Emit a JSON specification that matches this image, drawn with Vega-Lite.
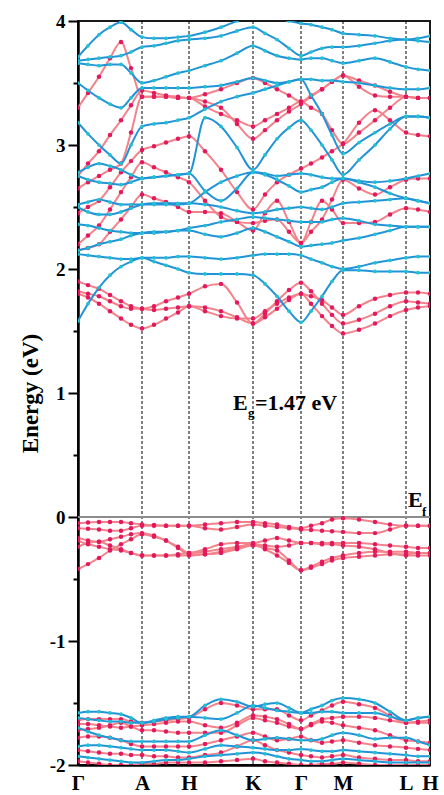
{
"$schema":"https://vega.github.io/schema/vega-lite/v6.json",
"width":352,"height":744,
"autosize":{"type":"none"},
"padding":{"left":78,"top":21,"right":14,"bottom":30},
"background":"white",
"config":{"view":{"stroke":"#1a1a1a","strokeWidth":2},"font":"Liberation Serif"},
"datasets":{
"kpts":[{"k":64},{"k":111},{"k":175},{"k":223},{"k":265},{"k":328}],
"up":[
{"band":"v1","k":0,"E":-0.05},{"band":"v1","k":10,"E":-0.045},{"band":"v1","k":21,"E":-0.04},{"band":"v1","k":32,"E":-0.04},{"band":"v1","k":43,"E":-0.04},{"band":"v1","k":53,"E":-0.05},{"band":"v1","k":64,"E":-0.06},{"band":"v1","k":76,"E":-0.065},{"band":"v1","k":88,"E":-0.07},{"band":"v1","k":100,"E":-0.07},{"band":"v1","k":111,"E":-0.07},{"band":"v1","k":127,"E":-0.06},{"band":"v1","k":143,"E":-0.05},{"band":"v1","k":159,"E":-0.04},{"band":"v1","k":175,"E":-0.04},{"band":"v1","k":187,"E":-0.05},{"band":"v1","k":199,"E":-0.06},{"band":"v1","k":211,"E":-0.08},{"band":"v1","k":223,"E":-0.09},{"band":"v1","k":233,"E":-0.07},{"band":"v1","k":244,"E":-0.05},{"band":"v1","k":254,"E":-0.02},{"band":"v1","k":265,"E":-0.01},{"band":"v1","k":281,"E":-0.02},{"band":"v1","k":297,"E":-0.04},{"band":"v1","k":312,"E":-0.06},{"band":"v1","k":328,"E":-0.07},{"band":"v1","k":340,"E":-0.07},{"band":"v1","k":352,"E":-0.07},
{"band":"v2","k":0,"E":-0.09},{"band":"v2","k":10,"E":-0.095},{"band":"v2","k":21,"E":-0.10},{"band":"v2","k":32,"E":-0.11},{"band":"v2","k":43,"E":-0.11},{"band":"v2","k":53,"E":-0.09},{"band":"v2","k":64,"E":-0.07},{"band":"v2","k":76,"E":-0.07},{"band":"v2","k":88,"E":-0.07},{"band":"v2","k":100,"E":-0.07},{"band":"v2","k":111,"E":-0.07},{"band":"v2","k":127,"E":-0.09},{"band":"v2","k":143,"E":-0.10},{"band":"v2","k":159,"E":-0.08},{"band":"v2","k":175,"E":-0.06},{"band":"v2","k":187,"E":-0.07},{"band":"v2","k":199,"E":-0.08},{"band":"v2","k":211,"E":-0.09},{"band":"v2","k":223,"E":-0.10},{"band":"v2","k":233,"E":-0.105},{"band":"v2","k":244,"E":-0.11},{"band":"v2","k":254,"E":-0.115},{"band":"v2","k":265,"E":-0.12},{"band":"v2","k":281,"E":-0.13},{"band":"v2","k":297,"E":-0.13},{"band":"v2","k":312,"E":-0.10},{"band":"v2","k":328,"E":-0.07},{"band":"v2","k":340,"E":-0.07},{"band":"v2","k":352,"E":-0.07},
{"band":"v3","k":0,"E":-0.17},{"band":"v3","k":10,"E":-0.19},{"band":"v3","k":21,"E":-0.20},{"band":"v3","k":32,"E":-0.18},{"band":"v3","k":43,"E":-0.16},{"band":"v3","k":53,"E":-0.14},{"band":"v3","k":64,"E":-0.13},{"band":"v3","k":76,"E":-0.15},{"band":"v3","k":88,"E":-0.19},{"band":"v3","k":100,"E":-0.24},{"band":"v3","k":111,"E":-0.29},{"band":"v3","k":127,"E":-0.26},{"band":"v3","k":143,"E":-0.22},{"band":"v3","k":159,"E":-0.21},{"band":"v3","k":175,"E":-0.21},{"band":"v3","k":187,"E":-0.19},{"band":"v3","k":199,"E":-0.17},{"band":"v3","k":211,"E":-0.19},{"band":"v3","k":223,"E":-0.21},{"band":"v3","k":233,"E":-0.21},{"band":"v3","k":244,"E":-0.21},{"band":"v3","k":254,"E":-0.21},{"band":"v3","k":265,"E":-0.21},{"band":"v3","k":281,"E":-0.21},{"band":"v3","k":297,"E":-0.22},{"band":"v3","k":312,"E":-0.23},{"band":"v3","k":328,"E":-0.24},{"band":"v3","k":340,"E":-0.25},{"band":"v3","k":352,"E":-0.25},
{"band":"v4","k":0,"E":-0.19},{"band":"v4","k":10,"E":-0.22},{"band":"v4","k":21,"E":-0.24},{"band":"v4","k":32,"E":-0.26},{"band":"v4","k":43,"E":-0.27},{"band":"v4","k":53,"E":-0.29},{"band":"v4","k":64,"E":-0.31},{"band":"v4","k":76,"E":-0.31},{"band":"v4","k":88,"E":-0.31},{"band":"v4","k":100,"E":-0.30},{"band":"v4","k":111,"E":-0.29},{"band":"v4","k":127,"E":-0.28},{"band":"v4","k":143,"E":-0.26},{"band":"v4","k":159,"E":-0.24},{"band":"v4","k":175,"E":-0.22},{"band":"v4","k":187,"E":-0.23},{"band":"v4","k":199,"E":-0.24},{"band":"v4","k":211,"E":-0.23},{"band":"v4","k":223,"E":-0.21},{"band":"v4","k":233,"E":-0.21},{"band":"v4","k":244,"E":-0.22},{"band":"v4","k":254,"E":-0.22},{"band":"v4","k":265,"E":-0.23},{"band":"v4","k":281,"E":-0.24},{"band":"v4","k":297,"E":-0.26},{"band":"v4","k":312,"E":-0.29},{"band":"v4","k":328,"E":-0.31},{"band":"v4","k":340,"E":-0.31},{"band":"v4","k":352,"E":-0.31},
{"band":"v5","k":0,"E":-0.24},{"band":"v5","k":10,"E":-0.21},{"band":"v5","k":21,"E":-0.20},{"band":"v5","k":32,"E":-0.23},{"band":"v5","k":43,"E":-0.26},{"band":"v5","k":53,"E":-0.29},{"band":"v5","k":64,"E":-0.31},{"band":"v5","k":76,"E":-0.31},{"band":"v5","k":88,"E":-0.31},{"band":"v5","k":100,"E":-0.31},{"band":"v5","k":111,"E":-0.31},{"band":"v5","k":127,"E":-0.30},{"band":"v5","k":143,"E":-0.28},{"band":"v5","k":159,"E":-0.25},{"band":"v5","k":175,"E":-0.22},{"band":"v5","k":187,"E":-0.26},{"band":"v5","k":199,"E":-0.31},{"band":"v5","k":211,"E":-0.37},{"band":"v5","k":223,"E":-0.43},{"band":"v5","k":233,"E":-0.40},{"band":"v5","k":244,"E":-0.36},{"band":"v5","k":254,"E":-0.33},{"band":"v5","k":265,"E":-0.31},{"band":"v5","k":281,"E":-0.29},{"band":"v5","k":297,"E":-0.28},{"band":"v5","k":312,"E":-0.28},{"band":"v5","k":328,"E":-0.28},{"band":"v5","k":340,"E":-0.29},{"band":"v5","k":352,"E":-0.29},
{"band":"v6","k":0,"E":-0.42},{"band":"v6","k":10,"E":-0.38},{"band":"v6","k":21,"E":-0.33},{"band":"v6","k":32,"E":-0.27},{"band":"v6","k":43,"E":-0.22},{"band":"v6","k":53,"E":-0.18},{"band":"v6","k":64,"E":-0.14},{"band":"v6","k":76,"E":-0.16},{"band":"v6","k":88,"E":-0.19},{"band":"v6","k":100,"E":-0.25},{"band":"v6","k":111,"E":-0.30},{"band":"v6","k":127,"E":-0.30},{"band":"v6","k":143,"E":-0.29},{"band":"v6","k":159,"E":-0.26},{"band":"v6","k":175,"E":-0.23},{"band":"v6","k":187,"E":-0.25},{"band":"v6","k":199,"E":-0.27},{"band":"v6","k":211,"E":-0.35},{"band":"v6","k":223,"E":-0.43},{"band":"v6","k":233,"E":-0.41},{"band":"v6","k":244,"E":-0.38},{"band":"v6","k":254,"E":-0.35},{"band":"v6","k":265,"E":-0.33},{"band":"v6","k":281,"E":-0.32},{"band":"v6","k":297,"E":-0.31},{"band":"v6","k":312,"E":-0.30},{"band":"v6","k":328,"E":-0.30},{"band":"v6","k":340,"E":-0.29},{"band":"v6","k":352,"E":-0.29},
{"band":"lr1","k":0,"E":-1.64},{"band":"lr1","k":10,"E":-1.63},{"band":"lr1","k":21,"E":-1.63},{"band":"lr1","k":32,"E":-1.63},{"band":"lr1","k":43,"E":-1.63},{"band":"lr1","k":53,"E":-1.65},{"band":"lr1","k":64,"E":-1.66},{"band":"lr1","k":76,"E":-1.65},{"band":"lr1","k":88,"E":-1.64},{"band":"lr1","k":100,"E":-1.63},{"band":"lr1","k":111,"E":-1.62},{"band":"lr1","k":127,"E":-1.55},{"band":"lr1","k":143,"E":-1.50},{"band":"lr1","k":159,"E":-1.52},{"band":"lr1","k":175,"E":-1.55},{"band":"lr1","k":187,"E":-1.55},{"band":"lr1","k":199,"E":-1.55},{"band":"lr1","k":211,"E":-1.60},{"band":"lr1","k":223,"E":-1.64},{"band":"lr1","k":233,"E":-1.60},{"band":"lr1","k":244,"E":-1.56},{"band":"lr1","k":254,"E":-1.52},{"band":"lr1","k":265,"E":-1.49},{"band":"lr1","k":281,"E":-1.51},{"band":"lr1","k":297,"E":-1.54},{"band":"lr1","k":312,"E":-1.60},{"band":"lr1","k":328,"E":-1.66},{"band":"lr1","k":340,"E":-1.65},{"band":"lr1","k":352,"E":-1.64},
{"band":"lr2","k":0,"E":-1.67},{"band":"lr2","k":10,"E":-1.67},{"band":"lr2","k":21,"E":-1.68},{"band":"lr2","k":32,"E":-1.69},{"band":"lr2","k":43,"E":-1.70},{"band":"lr2","k":53,"E":-1.69},{"band":"lr2","k":64,"E":-1.68},{"band":"lr2","k":76,"E":-1.67},{"band":"lr2","k":88,"E":-1.66},{"band":"lr2","k":100,"E":-1.65},{"band":"lr2","k":111,"E":-1.65},{"band":"lr2","k":127,"E":-1.68},{"band":"lr2","k":143,"E":-1.70},{"band":"lr2","k":159,"E":-1.66},{"band":"lr2","k":175,"E":-1.60},{"band":"lr2","k":187,"E":-1.61},{"band":"lr2","k":199,"E":-1.63},{"band":"lr2","k":211,"E":-1.67},{"band":"lr2","k":223,"E":-1.71},{"band":"lr2","k":233,"E":-1.67},{"band":"lr2","k":244,"E":-1.63},{"band":"lr2","k":254,"E":-1.62},{"band":"lr2","k":265,"E":-1.61},{"band":"lr2","k":281,"E":-1.61},{"band":"lr2","k":297,"E":-1.62},{"band":"lr2","k":312,"E":-1.64},{"band":"lr2","k":328,"E":-1.66},{"band":"lr2","k":340,"E":-1.66},{"band":"lr2","k":352,"E":-1.66},
{"band":"lr3","k":0,"E":-1.72},{"band":"lr3","k":10,"E":-1.71},{"band":"lr3","k":21,"E":-1.70},{"band":"lr3","k":32,"E":-1.68},{"band":"lr3","k":43,"E":-1.66},{"band":"lr3","k":53,"E":-1.69},{"band":"lr3","k":64,"E":-1.72},{"band":"lr3","k":76,"E":-1.72},{"band":"lr3","k":88,"E":-1.73},{"band":"lr3","k":100,"E":-1.74},{"band":"lr3","k":111,"E":-1.74},{"band":"lr3","k":127,"E":-1.74},{"band":"lr3","k":143,"E":-1.74},{"band":"lr3","k":159,"E":-1.68},{"band":"lr3","k":175,"E":-1.62},{"band":"lr3","k":187,"E":-1.64},{"band":"lr3","k":199,"E":-1.66},{"band":"lr3","k":211,"E":-1.69},{"band":"lr3","k":223,"E":-1.71},{"band":"lr3","k":233,"E":-1.68},{"band":"lr3","k":244,"E":-1.65},{"band":"lr3","k":254,"E":-1.66},{"band":"lr3","k":265,"E":-1.68},{"band":"lr3","k":281,"E":-1.70},{"band":"lr3","k":297,"E":-1.72},{"band":"lr3","k":312,"E":-1.76},{"band":"lr3","k":328,"E":-1.80},{"band":"lr3","k":340,"E":-1.81},{"band":"lr3","k":352,"E":-1.82},
{"band":"lr4","k":0,"E":-1.78},{"band":"lr4","k":10,"E":-1.77},{"band":"lr4","k":21,"E":-1.77},{"band":"lr4","k":32,"E":-1.78},{"band":"lr4","k":43,"E":-1.80},{"band":"lr4","k":53,"E":-1.83},{"band":"lr4","k":64,"E":-1.85},{"band":"lr4","k":76,"E":-1.85},{"band":"lr4","k":88,"E":-1.85},{"band":"lr4","k":100,"E":-1.85},{"band":"lr4","k":111,"E":-1.85},{"band":"lr4","k":127,"E":-1.83},{"band":"lr4","k":143,"E":-1.80},{"band":"lr4","k":159,"E":-1.77},{"band":"lr4","k":175,"E":-1.74},{"band":"lr4","k":187,"E":-1.77},{"band":"lr4","k":199,"E":-1.80},{"band":"lr4","k":211,"E":-1.79},{"band":"lr4","k":223,"E":-1.77},{"band":"lr4","k":233,"E":-1.80},{"band":"lr4","k":244,"E":-1.82},{"band":"lr4","k":254,"E":-1.81},{"band":"lr4","k":265,"E":-1.80},{"band":"lr4","k":281,"E":-1.82},{"band":"lr4","k":297,"E":-1.84},{"band":"lr4","k":312,"E":-1.85},{"band":"lr4","k":328,"E":-1.86},{"band":"lr4","k":340,"E":-1.87},{"band":"lr4","k":352,"E":-1.88},
{"band":"lr5","k":0,"E":-1.88},{"band":"lr5","k":10,"E":-1.89},{"band":"lr5","k":21,"E":-1.90},{"band":"lr5","k":32,"E":-1.91},{"band":"lr5","k":43,"E":-1.91},{"band":"lr5","k":53,"E":-1.92},{"band":"lr5","k":64,"E":-1.92},{"band":"lr5","k":76,"E":-1.93},{"band":"lr5","k":88,"E":-1.93},{"band":"lr5","k":100,"E":-1.94},{"band":"lr5","k":111,"E":-1.94},{"band":"lr5","k":127,"E":-1.92},{"band":"lr5","k":143,"E":-1.90},{"band":"lr5","k":159,"E":-1.85},{"band":"lr5","k":175,"E":-1.80},{"band":"lr5","k":187,"E":-1.84},{"band":"lr5","k":199,"E":-1.88},{"band":"lr5","k":211,"E":-1.90},{"band":"lr5","k":223,"E":-1.92},{"band":"lr5","k":233,"E":-1.93},{"band":"lr5","k":244,"E":-1.94},{"band":"lr5","k":254,"E":-1.93},{"band":"lr5","k":265,"E":-1.92},{"band":"lr5","k":281,"E":-1.94},{"band":"lr5","k":297,"E":-1.95},{"band":"lr5","k":312,"E":-1.96},{"band":"lr5","k":328,"E":-1.96},{"band":"lr5","k":340,"E":-1.97},{"band":"lr5","k":352,"E":-1.97},
{"band":"lr6","k":0,"E":-1.97},{"band":"lr6","k":10,"E":-1.98},{"band":"lr6","k":21,"E":-1.99},{"band":"lr6","k":32,"E":-2.0},{"band":"lr6","k":43,"E":-2.0},{"band":"lr6","k":53,"E":-2.0},{"band":"lr6","k":64,"E":-1.99},{"band":"lr6","k":76,"E":-1.99},{"band":"lr6","k":88,"E":-1.98},{"band":"lr6","k":100,"E":-1.98},{"band":"lr6","k":111,"E":-1.98},{"band":"lr6","k":127,"E":-1.98},{"band":"lr6","k":143,"E":-1.97},{"band":"lr6","k":159,"E":-1.96},{"band":"lr6","k":175,"E":-1.95},{"band":"lr6","k":187,"E":-1.97},{"band":"lr6","k":199,"E":-1.98},{"band":"lr6","k":211,"E":-1.99},{"band":"lr6","k":223,"E":-2.0},{"band":"lr6","k":233,"E":-2.0},{"band":"lr6","k":244,"E":-1.99},{"band":"lr6","k":254,"E":-1.99},{"band":"lr6","k":265,"E":-1.98},{"band":"lr6","k":281,"E":-1.99},{"band":"lr6","k":297,"E":-2.0},{"band":"lr6","k":312,"E":-2.0},{"band":"lr6","k":328,"E":-2.0},{"band":"lr6","k":340,"E":-2.0},{"band":"lr6","k":352,"E":-2.0},
{"band":"rc1","k":0,"E":1.80},{"band":"rc1","k":10,"E":1.77},{"band":"rc1","k":21,"E":1.72},{"band":"rc1","k":32,"E":1.66},{"band":"rc1","k":43,"E":1.60},{"band":"rc1","k":53,"E":1.55},{"band":"rc1","k":64,"E":1.52},{"band":"rc1","k":76,"E":1.55},{"band":"rc1","k":88,"E":1.60},{"band":"rc1","k":100,"E":1.65},{"band":"rc1","k":111,"E":1.70},{"band":"rc1","k":127,"E":1.69},{"band":"rc1","k":143,"E":1.66},{"band":"rc1","k":159,"E":1.61},{"band":"rc1","k":175,"E":1.56},{"band":"rc1","k":187,"E":1.61},{"band":"rc1","k":199,"E":1.68},{"band":"rc1","k":211,"E":1.75},{"band":"rc1","k":223,"E":1.80},{"band":"rc1","k":233,"E":1.72},{"band":"rc1","k":244,"E":1.62},{"band":"rc1","k":254,"E":1.54},{"band":"rc1","k":265,"E":1.48},{"band":"rc1","k":281,"E":1.51},{"band":"rc1","k":297,"E":1.56},{"band":"rc1","k":312,"E":1.62},{"band":"rc1","k":328,"E":1.67},{"band":"rc1","k":340,"E":1.69},{"band":"rc1","k":352,"E":1.70},
{"band":"rc2","k":0,"E":1.82},{"band":"rc2","k":10,"E":1.80},{"band":"rc2","k":21,"E":1.78},{"band":"rc2","k":32,"E":1.74},{"band":"rc2","k":43,"E":1.70},{"band":"rc2","k":53,"E":1.68},{"band":"rc2","k":64,"E":1.68},{"band":"rc2","k":76,"E":1.70},{"band":"rc2","k":88,"E":1.74},{"band":"rc2","k":100,"E":1.77},{"band":"rc2","k":111,"E":1.80},{"band":"rc2","k":127,"E":1.86},{"band":"rc2","k":143,"E":1.88},{"band":"rc2","k":159,"E":1.73},{"band":"rc2","k":175,"E":1.56},{"band":"rc2","k":187,"E":1.64},{"band":"rc2","k":199,"E":1.74},{"band":"rc2","k":211,"E":1.83},{"band":"rc2","k":223,"E":1.89},{"band":"rc2","k":233,"E":1.82},{"band":"rc2","k":244,"E":1.72},{"band":"rc2","k":254,"E":1.63},{"band":"rc2","k":265,"E":1.56},{"band":"rc2","k":281,"E":1.59},{"band":"rc2","k":297,"E":1.64},{"band":"rc2","k":312,"E":1.70},{"band":"rc2","k":328,"E":1.74},{"band":"rc2","k":340,"E":1.73},{"band":"rc2","k":352,"E":1.72},
{"band":"rc3","k":0,"E":1.90},{"band":"rc3","k":10,"E":1.87},{"band":"rc3","k":21,"E":1.84},{"band":"rc3","k":32,"E":1.79},{"band":"rc3","k":43,"E":1.74},{"band":"rc3","k":53,"E":1.70},{"band":"rc3","k":64,"E":1.68},{"band":"rc3","k":76,"E":1.67},{"band":"rc3","k":88,"E":1.68},{"band":"rc3","k":100,"E":1.69},{"band":"rc3","k":111,"E":1.70},{"band":"rc3","k":127,"E":1.66},{"band":"rc3","k":143,"E":1.62},{"band":"rc3","k":159,"E":1.60},{"band":"rc3","k":175,"E":1.60},{"band":"rc3","k":187,"E":1.66},{"band":"rc3","k":199,"E":1.72},{"band":"rc3","k":211,"E":1.77},{"band":"rc3","k":223,"E":1.80},{"band":"rc3","k":233,"E":1.78},{"band":"rc3","k":244,"E":1.75},{"band":"rc3","k":254,"E":1.69},{"band":"rc3","k":265,"E":1.63},{"band":"rc3","k":281,"E":1.70},{"band":"rc3","k":297,"E":1.76},{"band":"rc3","k":312,"E":1.79},{"band":"rc3","k":328,"E":1.81},{"band":"rc3","k":340,"E":1.81},{"band":"rc3","k":352,"E":1.80},
{"band":"rc4","k":0,"E":2.15},{"band":"rc4","k":10,"E":2.17},{"band":"rc4","k":21,"E":2.20},{"band":"rc4","k":32,"E":2.30},{"band":"rc4","k":43,"E":2.40},{"band":"rc4","k":53,"E":2.50},{"band":"rc4","k":64,"E":2.60},{"band":"rc4","k":76,"E":2.57},{"band":"rc4","k":88,"E":2.54},{"band":"rc4","k":100,"E":2.50},{"band":"rc4","k":111,"E":2.46},{"band":"rc4","k":127,"E":2.46},{"band":"rc4","k":143,"E":2.45},{"band":"rc4","k":159,"E":2.38},{"band":"rc4","k":175,"E":2.31},{"band":"rc4","k":187,"E":2.45},{"band":"rc4","k":199,"E":2.55},{"band":"rc4","k":211,"E":2.38},{"band":"rc4","k":223,"E":2.21},{"band":"rc4","k":233,"E":2.38},{"band":"rc4","k":244,"E":2.55},{"band":"rc4","k":254,"E":2.48},{"band":"rc4","k":265,"E":2.37},{"band":"rc4","k":281,"E":2.37},{"band":"rc4","k":297,"E":2.38},{"band":"rc4","k":312,"E":2.44},{"band":"rc4","k":328,"E":2.49},{"band":"rc4","k":340,"E":2.48},{"band":"rc4","k":352,"E":2.46},
{"band":"rc5","k":0,"E":2.20},{"band":"rc5","k":10,"E":2.27},{"band":"rc5","k":21,"E":2.35},{"band":"rc5","k":32,"E":2.48},{"band":"rc5","k":43,"E":2.62},{"band":"rc5","k":53,"E":2.74},{"band":"rc5","k":64,"E":2.86},{"band":"rc5","k":76,"E":2.82},{"band":"rc5","k":88,"E":2.78},{"band":"rc5","k":100,"E":2.74},{"band":"rc5","k":111,"E":2.70},{"band":"rc5","k":127,"E":2.55},{"band":"rc5","k":143,"E":2.42},{"band":"rc5","k":159,"E":2.38},{"band":"rc5","k":175,"E":2.37},{"band":"rc5","k":187,"E":2.39},{"band":"rc5","k":199,"E":2.40},{"band":"rc5","k":211,"E":2.30},{"band":"rc5","k":223,"E":2.21},{"band":"rc5","k":233,"E":2.30},{"band":"rc5","k":244,"E":2.40},{"band":"rc5","k":254,"E":2.56},{"band":"rc5","k":265,"E":2.72},{"band":"rc5","k":281,"E":2.65},{"band":"rc5","k":297,"E":2.60},{"band":"rc5","k":312,"E":2.66},{"band":"rc5","k":328,"E":2.72},{"band":"rc5","k":340,"E":2.73},{"band":"rc5","k":352,"E":2.73},
{"band":"rc6","k":0,"E":2.45},{"band":"rc6","k":10,"E":2.50},{"band":"rc6","k":21,"E":2.55},{"band":"rc6","k":32,"E":2.66},{"band":"rc6","k":43,"E":2.78},{"band":"rc6","k":53,"E":2.87},{"band":"rc6","k":64,"E":2.96},{"band":"rc6","k":76,"E":2.99},{"band":"rc6","k":88,"E":3.02},{"band":"rc6","k":100,"E":3.05},{"band":"rc6","k":111,"E":3.07},{"band":"rc6","k":127,"E":2.95},{"band":"rc6","k":143,"E":2.80},{"band":"rc6","k":159,"E":2.62},{"band":"rc6","k":175,"E":2.48},{"band":"rc6","k":187,"E":2.60},{"band":"rc6","k":199,"E":2.70},{"band":"rc6","k":211,"E":2.76},{"band":"rc6","k":223,"E":2.81},{"band":"rc6","k":233,"E":2.85},{"band":"rc6","k":244,"E":2.90},{"band":"rc6","k":254,"E":2.95},{"band":"rc6","k":265,"E":3.01},{"band":"rc6","k":281,"E":3.18},{"band":"rc6","k":297,"E":3.28},{"band":"rc6","k":312,"E":3.20},{"band":"rc6","k":328,"E":3.10},{"band":"rc6","k":340,"E":3.08},{"band":"rc6","k":352,"E":3.07},
{"band":"rc7","k":0,"E":2.65},{"band":"rc7","k":10,"E":2.70},{"band":"rc7","k":21,"E":2.75},{"band":"rc7","k":32,"E":2.80},{"band":"rc7","k":43,"E":2.85},{"band":"rc7","k":53,"E":3.10},{"band":"rc7","k":64,"E":3.39},{"band":"rc7","k":76,"E":3.39},{"band":"rc7","k":88,"E":3.39},{"band":"rc7","k":100,"E":3.38},{"band":"rc7","k":111,"E":3.38},{"band":"rc7","k":127,"E":3.35},{"band":"rc7","k":143,"E":3.30},{"band":"rc7","k":159,"E":3.17},{"band":"rc7","k":175,"E":3.05},{"band":"rc7","k":187,"E":3.12},{"band":"rc7","k":199,"E":3.20},{"band":"rc7","k":211,"E":3.27},{"band":"rc7","k":223,"E":3.33},{"band":"rc7","k":233,"E":3.39},{"band":"rc7","k":244,"E":3.45},{"band":"rc7","k":254,"E":3.51},{"band":"rc7","k":265,"E":3.56},{"band":"rc7","k":281,"E":3.47},{"band":"rc7","k":297,"E":3.40},{"band":"rc7","k":312,"E":3.39},{"band":"rc7","k":328,"E":3.39},{"band":"rc7","k":340,"E":3.38},{"band":"rc7","k":352,"E":3.38},
{"band":"rc8","k":0,"E":2.75},{"band":"rc8","k":10,"E":2.85},{"band":"rc8","k":21,"E":2.95},{"band":"rc8","k":32,"E":3.08},{"band":"rc8","k":43,"E":3.20},{"band":"rc8","k":53,"E":3.32},{"band":"rc8","k":64,"E":3.44},{"band":"rc8","k":76,"E":3.42},{"band":"rc8","k":88,"E":3.40},{"band":"rc8","k":100,"E":3.39},{"band":"rc8","k":111,"E":3.38},{"band":"rc8","k":127,"E":3.41},{"band":"rc8","k":143,"E":3.45},{"band":"rc8","k":159,"E":3.50},{"band":"rc8","k":175,"E":3.54},{"band":"rc8","k":187,"E":3.50},{"band":"rc8","k":199,"E":3.45},{"band":"rc8","k":211,"E":3.40},{"band":"rc8","k":223,"E":3.35},{"band":"rc8","k":233,"E":3.40},{"band":"rc8","k":244,"E":3.45},{"band":"rc8","k":254,"E":3.51},{"band":"rc8","k":265,"E":3.56},{"band":"rc8","k":281,"E":3.52},{"band":"rc8","k":297,"E":3.48},{"band":"rc8","k":312,"E":3.43},{"band":"rc8","k":328,"E":3.39},{"band":"rc8","k":340,"E":3.38},{"band":"rc8","k":352,"E":3.38},
{"band":"rc9","k":0,"E":3.30},{"band":"rc9","k":10,"E":3.42},{"band":"rc9","k":21,"E":3.55},{"band":"rc9","k":32,"E":3.70},{"band":"rc9","k":43,"E":3.83},{"band":"rc9","k":53,"E":3.62},{"band":"rc9","k":64,"E":3.39},{"band":"rc9","k":76,"E":3.39},{"band":"rc9","k":88,"E":3.39},{"band":"rc9","k":100,"E":3.38},{"band":"rc9","k":111,"E":3.38},{"band":"rc9","k":127,"E":3.31},{"band":"rc9","k":143,"E":3.25},{"band":"rc9","k":159,"E":3.20},{"band":"rc9","k":175,"E":3.15},{"band":"rc9","k":187,"E":3.20},{"band":"rc9","k":199,"E":3.25},{"band":"rc9","k":211,"E":3.30},{"band":"rc9","k":223,"E":3.35},{"band":"rc9","k":233,"E":3.30},{"band":"rc9","k":244,"E":3.25},{"band":"rc9","k":254,"E":3.12},{"band":"rc9","k":265,"E":3.01},{"band":"rc9","k":281,"E":3.10},{"band":"rc9","k":297,"E":3.20},{"band":"rc9","k":312,"E":3.30},{"band":"rc9","k":328,"E":3.39},{"band":"rc9","k":340,"E":3.38},{"band":"rc9","k":352,"E":3.38}
],
"down":[
{"band":"lb1","k":0,"E":-1.58},{"band":"lb1","k":10,"E":-1.57},{"band":"lb1","k":21,"E":-1.57},{"band":"lb1","k":32,"E":-1.58},{"band":"lb1","k":43,"E":-1.59},{"band":"lb1","k":53,"E":-1.62},{"band":"lb1","k":64,"E":-1.66},{"band":"lb1","k":76,"E":-1.64},{"band":"lb1","k":88,"E":-1.62},{"band":"lb1","k":100,"E":-1.61},{"band":"lb1","k":111,"E":-1.61},{"band":"lb1","k":127,"E":-1.52},{"band":"lb1","k":143,"E":-1.47},{"band":"lb1","k":159,"E":-1.49},{"band":"lb1","k":175,"E":-1.53},{"band":"lb1","k":187,"E":-1.51},{"band":"lb1","k":199,"E":-1.50},{"band":"lb1","k":211,"E":-1.54},{"band":"lb1","k":223,"E":-1.58},{"band":"lb1","k":233,"E":-1.55},{"band":"lb1","k":244,"E":-1.52},{"band":"lb1","k":254,"E":-1.48},{"band":"lb1","k":265,"E":-1.46},{"band":"lb1","k":281,"E":-1.47},{"band":"lb1","k":297,"E":-1.50},{"band":"lb1","k":312,"E":-1.57},{"band":"lb1","k":328,"E":-1.64},{"band":"lb1","k":340,"E":-1.62},{"band":"lb1","k":352,"E":-1.61},
{"band":"lb2","k":0,"E":-1.62},{"band":"lb2","k":10,"E":-1.63},{"band":"lb2","k":21,"E":-1.64},{"band":"lb2","k":32,"E":-1.65},{"band":"lb2","k":43,"E":-1.65},{"band":"lb2","k":53,"E":-1.66},{"band":"lb2","k":64,"E":-1.66},{"band":"lb2","k":76,"E":-1.65},{"band":"lb2","k":88,"E":-1.63},{"band":"lb2","k":100,"E":-1.62},{"band":"lb2","k":111,"E":-1.61},{"band":"lb2","k":127,"E":-1.62},{"band":"lb2","k":143,"E":-1.63},{"band":"lb2","k":159,"E":-1.58},{"band":"lb2","k":175,"E":-1.52},{"band":"lb2","k":187,"E":-1.54},{"band":"lb2","k":199,"E":-1.56},{"band":"lb2","k":211,"E":-1.57},{"band":"lb2","k":223,"E":-1.58},{"band":"lb2","k":233,"E":-1.58},{"band":"lb2","k":244,"E":-1.57},{"band":"lb2","k":254,"E":-1.57},{"band":"lb2","k":265,"E":-1.58},{"band":"lb2","k":281,"E":-1.58},{"band":"lb2","k":297,"E":-1.58},{"band":"lb2","k":312,"E":-1.61},{"band":"lb2","k":328,"E":-1.64},{"band":"lb2","k":340,"E":-1.62},{"band":"lb2","k":352,"E":-1.61},
{"band":"lb3","k":0,"E":-1.70},{"band":"lb3","k":10,"E":-1.73},{"band":"lb3","k":21,"E":-1.76},{"band":"lb3","k":32,"E":-1.78},{"band":"lb3","k":43,"E":-1.80},{"band":"lb3","k":53,"E":-1.81},{"band":"lb3","k":64,"E":-1.81},{"band":"lb3","k":76,"E":-1.81},{"band":"lb3","k":88,"E":-1.81},{"band":"lb3","k":100,"E":-1.81},{"band":"lb3","k":111,"E":-1.81},{"band":"lb3","k":127,"E":-1.76},{"band":"lb3","k":143,"E":-1.72},{"band":"lb3","k":159,"E":-1.76},{"band":"lb3","k":175,"E":-1.80},{"band":"lb3","k":187,"E":-1.79},{"band":"lb3","k":199,"E":-1.78},{"band":"lb3","k":211,"E":-1.79},{"band":"lb3","k":223,"E":-1.80},{"band":"lb3","k":233,"E":-1.80},{"band":"lb3","k":244,"E":-1.79},{"band":"lb3","k":254,"E":-1.76},{"band":"lb3","k":265,"E":-1.74},{"band":"lb3","k":281,"E":-1.76},{"band":"lb3","k":297,"E":-1.79},{"band":"lb3","k":312,"E":-1.78},{"band":"lb3","k":328,"E":-1.78},{"band":"lb3","k":340,"E":-1.81},{"band":"lb3","k":352,"E":-1.84},
{"band":"lb4","k":0,"E":-1.85},{"band":"lb4","k":10,"E":-1.84},{"band":"lb4","k":21,"E":-1.84},{"band":"lb4","k":32,"E":-1.85},{"band":"lb4","k":43,"E":-1.86},{"band":"lb4","k":53,"E":-1.87},{"band":"lb4","k":64,"E":-1.88},{"band":"lb4","k":76,"E":-1.88},{"band":"lb4","k":88,"E":-1.88},{"band":"lb4","k":100,"E":-1.89},{"band":"lb4","k":111,"E":-1.90},{"band":"lb4","k":127,"E":-1.87},{"band":"lb4","k":143,"E":-1.84},{"band":"lb4","k":159,"E":-1.85},{"band":"lb4","k":175,"E":-1.86},{"band":"lb4","k":187,"E":-1.87},{"band":"lb4","k":199,"E":-1.88},{"band":"lb4","k":211,"E":-1.88},{"band":"lb4","k":223,"E":-1.87},{"band":"lb4","k":233,"E":-1.88},{"band":"lb4","k":244,"E":-1.89},{"band":"lb4","k":254,"E":-1.89},{"band":"lb4","k":265,"E":-1.88},{"band":"lb4","k":281,"E":-1.89},{"band":"lb4","k":297,"E":-1.90},{"band":"lb4","k":312,"E":-1.91},{"band":"lb4","k":328,"E":-1.92},{"band":"lb4","k":340,"E":-1.93},{"band":"lb4","k":352,"E":-1.93},
{"band":"lb5","k":0,"E":-1.93},{"band":"lb5","k":10,"E":-1.94},{"band":"lb5","k":21,"E":-1.95},{"band":"lb5","k":32,"E":-1.96},{"band":"lb5","k":43,"E":-1.97},{"band":"lb5","k":53,"E":-1.98},{"band":"lb5","k":64,"E":-1.98},{"band":"lb5","k":76,"E":-1.97},{"band":"lb5","k":88,"E":-1.96},{"band":"lb5","k":100,"E":-1.96},{"band":"lb5","k":111,"E":-1.95},{"band":"lb5","k":127,"E":-1.93},{"band":"lb5","k":143,"E":-1.92},{"band":"lb5","k":159,"E":-1.91},{"band":"lb5","k":175,"E":-1.90},{"band":"lb5","k":187,"E":-1.91},{"band":"lb5","k":199,"E":-1.93},{"band":"lb5","k":211,"E":-1.95},{"band":"lb5","k":223,"E":-1.96},{"band":"lb5","k":233,"E":-1.97},{"band":"lb5","k":244,"E":-1.97},{"band":"lb5","k":254,"E":-1.96},{"band":"lb5","k":265,"E":-1.95},{"band":"lb5","k":281,"E":-1.96},{"band":"lb5","k":297,"E":-1.97},{"band":"lb5","k":312,"E":-1.98},{"band":"lb5","k":328,"E":-1.98},{"band":"lb5","k":340,"E":-1.98},{"band":"lb5","k":352,"E":-1.98},
{"band":"bc1","k":0,"E":1.58},{"band":"bc1","k":10,"E":1.72},{"band":"bc1","k":21,"E":1.85},{"band":"bc1","k":32,"E":1.95},{"band":"bc1","k":43,"E":2.02},{"band":"bc1","k":53,"E":2.06},{"band":"bc1","k":64,"E":2.09},{"band":"bc1","k":76,"E":2.06},{"band":"bc1","k":88,"E":2.03},{"band":"bc1","k":100,"E":2.00},{"band":"bc1","k":111,"E":1.97},{"band":"bc1","k":127,"E":1.96},{"band":"bc1","k":143,"E":1.96},{"band":"bc1","k":159,"E":1.96},{"band":"bc1","k":175,"E":1.95},{"band":"bc1","k":187,"E":1.88},{"band":"bc1","k":199,"E":1.78},{"band":"bc1","k":211,"E":1.66},{"band":"bc1","k":223,"E":1.57},{"band":"bc1","k":233,"E":1.66},{"band":"bc1","k":244,"E":1.78},{"band":"bc1","k":254,"E":1.90},{"band":"bc1","k":265,"E":1.99},{"band":"bc1","k":281,"E":1.99},{"band":"bc1","k":297,"E":1.98},{"band":"bc1","k":312,"E":1.98},{"band":"bc1","k":328,"E":1.98},{"band":"bc1","k":340,"E":1.97},{"band":"bc1","k":352,"E":1.97},
{"band":"bc2","k":0,"E":2.12},{"band":"bc2","k":10,"E":2.11},{"band":"bc2","k":21,"E":2.10},{"band":"bc2","k":32,"E":2.09},{"band":"bc2","k":43,"E":2.08},{"band":"bc2","k":53,"E":2.08},{"band":"bc2","k":64,"E":2.09},{"band":"bc2","k":76,"E":2.09},{"band":"bc2","k":88,"E":2.09},{"band":"bc2","k":100,"E":2.10},{"band":"bc2","k":111,"E":2.10},{"band":"bc2","k":127,"E":2.09},{"band":"bc2","k":143,"E":2.08},{"band":"bc2","k":159,"E":2.09},{"band":"bc2","k":175,"E":2.11},{"band":"bc2","k":187,"E":2.12},{"band":"bc2","k":199,"E":2.12},{"band":"bc2","k":211,"E":2.12},{"band":"bc2","k":223,"E":2.11},{"band":"bc2","k":233,"E":2.08},{"band":"bc2","k":244,"E":2.05},{"band":"bc2","k":254,"E":2.02},{"band":"bc2","k":265,"E":2.00},{"band":"bc2","k":281,"E":2.02},{"band":"bc2","k":297,"E":2.05},{"band":"bc2","k":312,"E":2.07},{"band":"bc2","k":328,"E":2.09},{"band":"bc2","k":340,"E":2.10},{"band":"bc2","k":352,"E":2.10},
{"band":"bc3","k":0,"E":2.15},{"band":"bc3","k":10,"E":2.17},{"band":"bc3","k":21,"E":2.20},{"band":"bc3","k":32,"E":2.22},{"band":"bc3","k":43,"E":2.24},{"band":"bc3","k":53,"E":2.27},{"band":"bc3","k":64,"E":2.29},{"band":"bc3","k":76,"E":2.30},{"band":"bc3","k":88,"E":2.30},{"band":"bc3","k":100,"E":2.31},{"band":"bc3","k":111,"E":2.31},{"band":"bc3","k":127,"E":2.28},{"band":"bc3","k":143,"E":2.26},{"band":"bc3","k":159,"E":2.29},{"band":"bc3","k":175,"E":2.33},{"band":"bc3","k":187,"E":2.30},{"band":"bc3","k":199,"E":2.26},{"band":"bc3","k":211,"E":2.22},{"band":"bc3","k":223,"E":2.18},{"band":"bc3","k":233,"E":2.19},{"band":"bc3","k":244,"E":2.20},{"band":"bc3","k":254,"E":2.21},{"band":"bc3","k":265,"E":2.23},{"band":"bc3","k":281,"E":2.25},{"band":"bc3","k":297,"E":2.28},{"band":"bc3","k":312,"E":2.31},{"band":"bc3","k":328,"E":2.34},{"band":"bc3","k":340,"E":2.34},{"band":"bc3","k":352,"E":2.34},
{"band":"bc4","k":0,"E":2.36},{"band":"bc4","k":10,"E":2.35},{"band":"bc4","k":21,"E":2.33},{"band":"bc4","k":32,"E":2.31},{"band":"bc4","k":43,"E":2.30},{"band":"bc4","k":53,"E":2.29},{"band":"bc4","k":64,"E":2.29},{"band":"bc4","k":76,"E":2.29},{"band":"bc4","k":88,"E":2.30},{"band":"bc4","k":100,"E":2.31},{"band":"bc4","k":111,"E":2.33},{"band":"bc4","k":127,"E":2.35},{"band":"bc4","k":143,"E":2.38},{"band":"bc4","k":159,"E":2.40},{"band":"bc4","k":175,"E":2.42},{"band":"bc4","k":187,"E":2.41},{"band":"bc4","k":199,"E":2.40},{"band":"bc4","k":211,"E":2.39},{"band":"bc4","k":223,"E":2.38},{"band":"bc4","k":233,"E":2.38},{"band":"bc4","k":244,"E":2.38},{"band":"bc4","k":254,"E":2.40},{"band":"bc4","k":265,"E":2.41},{"band":"bc4","k":281,"E":2.39},{"band":"bc4","k":297,"E":2.36},{"band":"bc4","k":312,"E":2.35},{"band":"bc4","k":328,"E":2.34},{"band":"bc4","k":340,"E":2.34},{"band":"bc4","k":352,"E":2.34},
{"band":"bc5","k":0,"E":2.50},{"band":"bc5","k":10,"E":2.46},{"band":"bc5","k":21,"E":2.44},{"band":"bc5","k":32,"E":2.44},{"band":"bc5","k":43,"E":2.46},{"band":"bc5","k":53,"E":2.49},{"band":"bc5","k":64,"E":2.52},{"band":"bc5","k":76,"E":2.53},{"band":"bc5","k":88,"E":2.53},{"band":"bc5","k":100,"E":2.53},{"band":"bc5","k":111,"E":2.53},{"band":"bc5","k":127,"E":2.52},{"band":"bc5","k":143,"E":2.50},{"band":"bc5","k":159,"E":2.47},{"band":"bc5","k":175,"E":2.45},{"band":"bc5","k":187,"E":2.46},{"band":"bc5","k":199,"E":2.48},{"band":"bc5","k":211,"E":2.49},{"band":"bc5","k":223,"E":2.50},{"band":"bc5","k":233,"E":2.49},{"band":"bc5","k":244,"E":2.48},{"band":"bc5","k":254,"E":2.50},{"band":"bc5","k":265,"E":2.53},{"band":"bc5","k":281,"E":2.54},{"band":"bc5","k":297,"E":2.55},{"band":"bc5","k":312,"E":2.56},{"band":"bc5","k":328,"E":2.57},{"band":"bc5","k":340,"E":2.55},{"band":"bc5","k":352,"E":2.53},
{"band":"bc6","k":0,"E":2.52},{"band":"bc6","k":10,"E":2.54},{"band":"bc6","k":21,"E":2.56},{"band":"bc6","k":32,"E":2.54},{"band":"bc6","k":43,"E":2.52},{"band":"bc6","k":53,"E":2.52},{"band":"bc6","k":64,"E":2.52},{"band":"bc6","k":76,"E":2.52},{"band":"bc6","k":88,"E":2.52},{"band":"bc6","k":100,"E":2.52},{"band":"bc6","k":111,"E":2.53},{"band":"bc6","k":127,"E":2.62},{"band":"bc6","k":143,"E":2.70},{"band":"bc6","k":159,"E":2.75},{"band":"bc6","k":175,"E":2.78},{"band":"bc6","k":187,"E":2.76},{"band":"bc6","k":199,"E":2.72},{"band":"bc6","k":211,"E":2.67},{"band":"bc6","k":223,"E":2.62},{"band":"bc6","k":233,"E":2.64},{"band":"bc6","k":244,"E":2.66},{"band":"bc6","k":254,"E":2.70},{"band":"bc6","k":265,"E":2.73},{"band":"bc6","k":281,"E":2.70},{"band":"bc6","k":297,"E":2.66},{"band":"bc6","k":312,"E":2.61},{"band":"bc6","k":328,"E":2.57},{"band":"bc6","k":340,"E":2.55},{"band":"bc6","k":352,"E":2.53},
{"band":"bc7","k":0,"E":2.75},{"band":"bc7","k":10,"E":2.72},{"band":"bc7","k":21,"E":2.70},{"band":"bc7","k":32,"E":2.69},{"band":"bc7","k":43,"E":2.68},{"band":"bc7","k":53,"E":2.70},{"band":"bc7","k":64,"E":2.73},{"band":"bc7","k":76,"E":2.74},{"band":"bc7","k":88,"E":2.75},{"band":"bc7","k":100,"E":2.76},{"band":"bc7","k":111,"E":2.77},{"band":"bc7","k":127,"E":2.63},{"band":"bc7","k":143,"E":2.55},{"band":"bc7","k":159,"E":2.65},{"band":"bc7","k":175,"E":2.78},{"band":"bc7","k":187,"E":2.77},{"band":"bc7","k":199,"E":2.75},{"band":"bc7","k":211,"E":2.76},{"band":"bc7","k":223,"E":2.77},{"band":"bc7","k":233,"E":2.76},{"band":"bc7","k":244,"E":2.74},{"band":"bc7","k":254,"E":2.73},{"band":"bc7","k":265,"E":2.73},{"band":"bc7","k":281,"E":2.71},{"band":"bc7","k":297,"E":2.70},{"band":"bc7","k":312,"E":2.71},{"band":"bc7","k":328,"E":2.73},{"band":"bc7","k":340,"E":2.75},{"band":"bc7","k":352,"E":2.77},
{"band":"bc8","k":0,"E":2.78},{"band":"bc8","k":10,"E":2.82},{"band":"bc8","k":21,"E":2.85},{"band":"bc8","k":32,"E":2.83},{"band":"bc8","k":43,"E":2.80},{"band":"bc8","k":53,"E":2.76},{"band":"bc8","k":64,"E":2.73},{"band":"bc8","k":76,"E":2.74},{"band":"bc8","k":88,"E":2.75},{"band":"bc8","k":100,"E":2.76},{"band":"bc8","k":111,"E":2.77},{"band":"bc8","k":127,"E":3.22},{"band":"bc8","k":143,"E":3.15},{"band":"bc8","k":159,"E":2.98},{"band":"bc8","k":175,"E":2.80},{"band":"bc8","k":187,"E":2.92},{"band":"bc8","k":199,"E":3.05},{"band":"bc8","k":211,"E":3.14},{"band":"bc8","k":223,"E":3.20},{"band":"bc8","k":233,"E":3.12},{"band":"bc8","k":244,"E":3.00},{"band":"bc8","k":254,"E":2.88},{"band":"bc8","k":265,"E":2.76},{"band":"bc8","k":281,"E":2.88},{"band":"bc8","k":297,"E":3.00},{"band":"bc8","k":312,"E":3.13},{"band":"bc8","k":328,"E":3.23},{"band":"bc8","k":340,"E":3.23},{"band":"bc8","k":352,"E":3.22},
{"band":"bc9","k":0,"E":3.18},{"band":"bc9","k":10,"E":3.09},{"band":"bc9","k":21,"E":3.00},{"band":"bc9","k":32,"E":2.92},{"band":"bc9","k":43,"E":2.85},{"band":"bc9","k":53,"E":3.00},{"band":"bc9","k":64,"E":3.15},{"band":"bc9","k":76,"E":3.17},{"band":"bc9","k":88,"E":3.18},{"band":"bc9","k":100,"E":3.20},{"band":"bc9","k":111,"E":3.22},{"band":"bc9","k":127,"E":3.29},{"band":"bc9","k":143,"E":3.35},{"band":"bc9","k":159,"E":3.39},{"band":"bc9","k":175,"E":3.42},{"band":"bc9","k":187,"E":3.45},{"band":"bc9","k":199,"E":3.48},{"band":"bc9","k":211,"E":3.51},{"band":"bc9","k":223,"E":3.53},{"band":"bc9","k":233,"E":3.40},{"band":"bc9","k":244,"E":3.25},{"band":"bc9","k":254,"E":3.08},{"band":"bc9","k":265,"E":2.93},{"band":"bc9","k":281,"E":3.02},{"band":"bc9","k":297,"E":3.10},{"band":"bc9","k":312,"E":3.17},{"band":"bc9","k":328,"E":3.23},{"band":"bc9","k":340,"E":3.23},{"band":"bc9","k":352,"E":3.22},
{"band":"bc10","k":0,"E":3.50},{"band":"bc10","k":10,"E":3.44},{"band":"bc10","k":21,"E":3.38},{"band":"bc10","k":32,"E":3.33},{"band":"bc10","k":43,"E":3.30},{"band":"bc10","k":53,"E":3.38},{"band":"bc10","k":64,"E":3.46},{"band":"bc10","k":76,"E":3.46},{"band":"bc10","k":88,"E":3.46},{"band":"bc10","k":100,"E":3.46},{"band":"bc10","k":111,"E":3.46},{"band":"bc10","k":127,"E":3.47},{"band":"bc10","k":143,"E":3.48},{"band":"bc10","k":159,"E":3.51},{"band":"bc10","k":175,"E":3.54},{"band":"bc10","k":187,"E":3.52},{"band":"bc10","k":199,"E":3.50},{"band":"bc10","k":211,"E":3.51},{"band":"bc10","k":223,"E":3.53},{"band":"bc10","k":233,"E":3.53},{"band":"bc10","k":244,"E":3.52},{"band":"bc10","k":254,"E":3.52},{"band":"bc10","k":265,"E":3.51},{"band":"bc10","k":281,"E":3.50},{"band":"bc10","k":297,"E":3.48},{"band":"bc10","k":312,"E":3.46},{"band":"bc10","k":328,"E":3.45},{"band":"bc10","k":340,"E":3.45},{"band":"bc10","k":352,"E":3.46},
{"band":"bc11","k":0,"E":3.66},{"band":"bc11","k":10,"E":3.65},{"band":"bc11","k":21,"E":3.64},{"band":"bc11","k":32,"E":3.65},{"band":"bc11","k":43,"E":3.65},{"band":"bc11","k":53,"E":3.58},{"band":"bc11","k":64,"E":3.50},{"band":"bc11","k":76,"E":3.52},{"band":"bc11","k":88,"E":3.55},{"band":"bc11","k":100,"E":3.58},{"band":"bc11","k":111,"E":3.60},{"band":"bc11","k":127,"E":3.64},{"band":"bc11","k":143,"E":3.68},{"band":"bc11","k":159,"E":3.74},{"band":"bc11","k":175,"E":3.80},{"band":"bc11","k":187,"E":3.76},{"band":"bc11","k":199,"E":3.72},{"band":"bc11","k":211,"E":3.70},{"band":"bc11","k":223,"E":3.69},{"band":"bc11","k":233,"E":3.70},{"band":"bc11","k":244,"E":3.70},{"band":"bc11","k":254,"E":3.68},{"band":"bc11","k":265,"E":3.66},{"band":"bc11","k":281,"E":3.68},{"band":"bc11","k":297,"E":3.70},{"band":"bc11","k":312,"E":3.67},{"band":"bc11","k":328,"E":3.63},{"band":"bc11","k":340,"E":3.61},{"band":"bc11","k":352,"E":3.60},
{"band":"bc12","k":0,"E":3.68},{"band":"bc12","k":10,"E":3.69},{"band":"bc12","k":21,"E":3.70},{"band":"bc12","k":32,"E":3.71},{"band":"bc12","k":43,"E":3.72},{"band":"bc12","k":53,"E":3.75},{"band":"bc12","k":64,"E":3.79},{"band":"bc12","k":76,"E":3.80},{"band":"bc12","k":88,"E":3.82},{"band":"bc12","k":100,"E":3.84},{"band":"bc12","k":111,"E":3.85},{"band":"bc12","k":127,"E":3.86},{"band":"bc12","k":143,"E":3.88},{"band":"bc12","k":159,"E":3.92},{"band":"bc12","k":175,"E":3.95},{"band":"bc12","k":187,"E":3.90},{"band":"bc12","k":199,"E":3.85},{"band":"bc12","k":211,"E":3.78},{"band":"bc12","k":223,"E":3.72},{"band":"bc12","k":233,"E":3.75},{"band":"bc12","k":244,"E":3.78},{"band":"bc12","k":254,"E":3.79},{"band":"bc12","k":265,"E":3.79},{"band":"bc12","k":281,"E":3.80},{"band":"bc12","k":297,"E":3.82},{"band":"bc12","k":312,"E":3.84},{"band":"bc12","k":328,"E":3.85},{"band":"bc12","k":340,"E":3.84},{"band":"bc12","k":352,"E":3.83},
{"band":"bc13","k":0,"E":3.71},{"band":"bc13","k":10,"E":3.80},{"band":"bc13","k":21,"E":3.89},{"band":"bc13","k":32,"E":3.95},{"band":"bc13","k":43,"E":3.99},{"band":"bc13","k":53,"E":3.93},{"band":"bc13","k":64,"E":3.87},{"band":"bc13","k":76,"E":3.86},{"band":"bc13","k":88,"E":3.86},{"band":"bc13","k":100,"E":3.87},{"band":"bc13","k":111,"E":3.88},{"band":"bc13","k":127,"E":3.91},{"band":"bc13","k":143,"E":3.95},{"band":"bc13","k":159,"E":4.00},{"band":"bc13","k":175,"E":4.05},{"band":"bc13","k":187,"E":4.04},{"band":"bc13","k":199,"E":4.02},{"band":"bc13","k":211,"E":4.00},{"band":"bc13","k":223,"E":3.98},{"band":"bc13","k":233,"E":3.97},{"band":"bc13","k":244,"E":3.95},{"band":"bc13","k":254,"E":3.93},{"band":"bc13","k":265,"E":3.90},{"band":"bc13","k":281,"E":3.89},{"band":"bc13","k":297,"E":3.88},{"band":"bc13","k":312,"E":3.86},{"band":"bc13","k":328,"E":3.85},{"band":"bc13","k":340,"E":3.86},{"band":"bc13","k":352,"E":3.88}
]},
"layer":[
{"layer":[
{"data":{"name":"kpts"},"mark":{"type":"rule","color":"#000","strokeWidth":1,"strokeDash":[3,2]},
 "encoding":{"x":{"field":"k","type":"quantitative","scale":{"domain":[0,352],"nice":false},
  "axis":{"values":[0,64,111,175,223,265,328,352],"labelExpr":"datum.value==0?'Γ':datum.value==64?'A':datum.value==111?'H':datum.value==175?'K':datum.value==223?'Γ':datum.value==265?'M':datum.value==328?'L':'H'","title":null,"grid":false,"ticks":false,"domainColor":"#000","domainWidth":2.5,"labelFont":"Liberation Serif","labelFontWeight":"bold","labelFontSize":21,"labelColor":"#000","labelPadding":7,"labelOverlap":false,"labelBound":false,"labelFlush":false}}}},
{"data":{"values":[{}]},"mark":{"type":"rule","color":"#8c8c8c","strokeWidth":2},
 "encoding":{"y":{"datum":0,"type":"quantitative","scale":{"domain":[-2,4],"nice":false},
  "axis":{"values":[-2,-1,0,1,2,3,4],"labelExpr":"''+datum.value","title":"Energy (eV)","titleFont":"Liberation Serif","titleFontSize":23,"titleFontWeight":"bold","titleColor":"#000","titlePadding":7,"labelFont":"Liberation Serif","labelFontSize":19,"labelFontWeight":"bold","labelColor":"#000","tickSize":10,"tickWidth":2,"tickColor":"#000","domainColor":"#000","domainWidth":2.5,"grid":false,"labelPadding":3}}}},
{"data":{"name":"up"},"mark":{"type":"line","color":"#f2838a","strokeWidth":2,"interpolate":"monotone","clip":true},
 "encoding":{"x":{"field":"k","type":"quantitative"},"y":{"field":"E","type":"quantitative"},"detail":{"field":"band"}}},
{"data":{"name":"up"},"mark":{"type":"point","filled":true,"color":"#e3185e","size":20,"opacity":1,"clip":true},
 "encoding":{"x":{"field":"k","type":"quantitative"},"y":{"field":"E","type":"quantitative"}}},
{"data":{"name":"down"},"mark":{"type":"line","color":"#2193d8","strokeWidth":2,"interpolate":"monotone","clip":true},
 "encoding":{"x":{"field":"k","type":"quantitative"},"y":{"field":"E","type":"quantitative"},"detail":{"field":"band"}}},
{"data":{"name":"down"},"mark":{"type":"point","filled":true,"color":"#22c0d0","size":14,"opacity":1,"clip":true},
 "encoding":{"x":{"field":"k","type":"quantitative"},"y":{"field":"E","type":"quantitative"}}},
{"data":{"values":[{}]},"mark":{"type":"text","text":"E","font":"Liberation Serif","fontWeight":"bold","fontSize":22,"align":"left","baseline":"alphabetic","color":"#000"},
 "encoding":{"x":{"datum":155,"type":"quantitative"},"y":{"datum":0.863,"type":"quantitative"}}},
{"data":{"values":[{}]},"mark":{"type":"text","text":"g","font":"Liberation Serif","fontWeight":"bold","fontSize":13,"align":"left","baseline":"alphabetic","color":"#000"},
 "encoding":{"x":{"datum":170,"type":"quantitative"},"y":{"datum":0.81,"type":"quantitative"}}},
{"data":{"values":[{}]},"mark":{"type":"text","text":"=1.47 eV","font":"Liberation Serif","fontWeight":"bold","fontSize":22,"align":"left","baseline":"alphabetic","color":"#000"},
 "encoding":{"x":{"datum":177,"type":"quantitative"},"y":{"datum":0.863,"type":"quantitative"}}},
{"data":{"values":[{}]},"mark":{"type":"text","text":"E","font":"Liberation Serif","fontWeight":"bold","fontSize":22,"align":"left","baseline":"alphabetic","color":"#000"},
 "encoding":{"x":{"datum":330,"type":"quantitative"},"y":{"datum":0.08,"type":"quantitative"}}},
{"data":{"values":[{}]},"mark":{"type":"text","text":"f","font":"Liberation Serif","fontWeight":"bold","fontSize":13,"align":"left","baseline":"alphabetic","color":"#000"},
 "encoding":{"x":{"datum":344,"type":"quantitative"},"y":{"datum":0.01,"type":"quantitative"}}}
]},
{"data":{"values":[{}]},"mark":{"type":"rule","opacity":0},
 "encoding":{"y":{"datum":0,"type":"quantitative","axis":{"values":[-1.5,-0.5,0.5,1.5,2.5,3.5],"labels":false,"tickSize":5,"tickWidth":2,"tickColor":"#000","domain":false,"title":null,"grid":false,"orient":"left"}}}}
],
"resolve":{"axis":{"y":"independent"}}
}
